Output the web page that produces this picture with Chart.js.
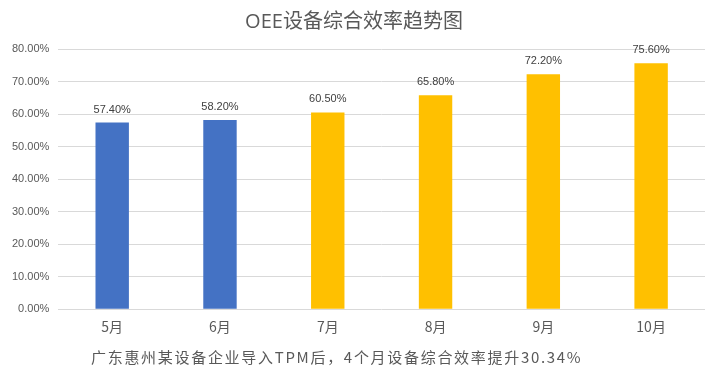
<!DOCTYPE html>
<html><head><meta charset="utf-8">
<script src="https://cdn.jsdelivr.net/npm/chart.js@4"></script>
<style>html,body{margin:0;padding:0;background:#fff;}#wrap{width:728px;height:374px;position:relative;}</style>
</head><body><div id="wrap"><canvas id="c" width="728" height="374"></canvas></div>
<script>
const categories = ['5月','6月','7月','8月','9月','10月'];
const oeeValues = [57.4, 58.2, 60.5, 65.8, 72.2, 75.6];
const barColors = ['#4472C4','#4472C4','#FFC000','#FFC000','#FFC000','#FFC000'];
const titleText = 'OEE设备综合效率趋势图';
const footText = '广东惠州某设备企业导入TPM后，4个月设备综合效率提升30.34%';

const labelPlugin = {
  id: 'barLabels',
  afterDatasetsDraw(chart) {
    const ctx = chart.ctx;
    const meta = chart.getDatasetMeta(0);
    ctx.save();
    ctx.font = '11px "Liberation Sans", Arial, sans-serif';
    ctx.fillStyle = '#404040';
    ctx.textAlign = 'center';
    ctx.textBaseline = 'alphabetic';
    meta.data.forEach((bar, i) => {
      ctx.fillText(oeeValues[i].toFixed(2) + '%', bar.x, bar.y - 10);
    });
    ctx.restore();
  }
};

const footPlugin = {
  id: 'footNote',
  afterDraw(chart) {
    const ctx = chart.ctx;
    ctx.save();
    ctx.font = '15px "Noto Sans CJK SC", serif';
    ctx.fillStyle = '#595959';
    ctx.textAlign = 'left';
    ctx.textBaseline = 'middle';
    try { ctx.letterSpacing = '1.7px'; } catch (e) {}
    ctx.fillText(footText, 91, 357);
    ctx.restore();
  }
};

new Chart(document.getElementById('c'), {
  type: 'bar',
  data: {
    labels: categories,
    datasets: [{ data: oeeValues, backgroundColor: barColors, barPercentage: 0.31, categoryPercentage: 1.0 }]
  },
  options: {
    responsive: false,
    animation: false,
    layout: { padding: { left: 3, right: 23, top: 0, bottom: 38 } },
    plugins: {
      legend: { display: false },
      tooltip: { enabled: false },
      title: { display: true, text: titleText, color: '#595959', font: { family: '"Open Sans","Noto Sans CJK SC",sans-serif', size: 20, weight: 'normal' }, padding: { top: 10, bottom: 15 } }
    },
    scales: {
      x: {
        grid: { display: false },
        border: { display: false },
        ticks: { color: '#595959', font: { family: '"Noto Sans CJK SC",sans-serif', size: 14 }, padding: 1 }
      },
      y: {
        min: 0, max: 80,
        grid: { color: '#d9d9d9', drawTicks: false },
        border: { display: false },
        ticks: { stepSize: 10, color: '#595959', padding: 9, font: { family: '"Liberation Sans", Arial, sans-serif', size: 11 }, callback: v => v.toFixed(2) + '%' }
      }
    }
  },
  plugins: [labelPlugin, footPlugin]
});
</script></body></html>
